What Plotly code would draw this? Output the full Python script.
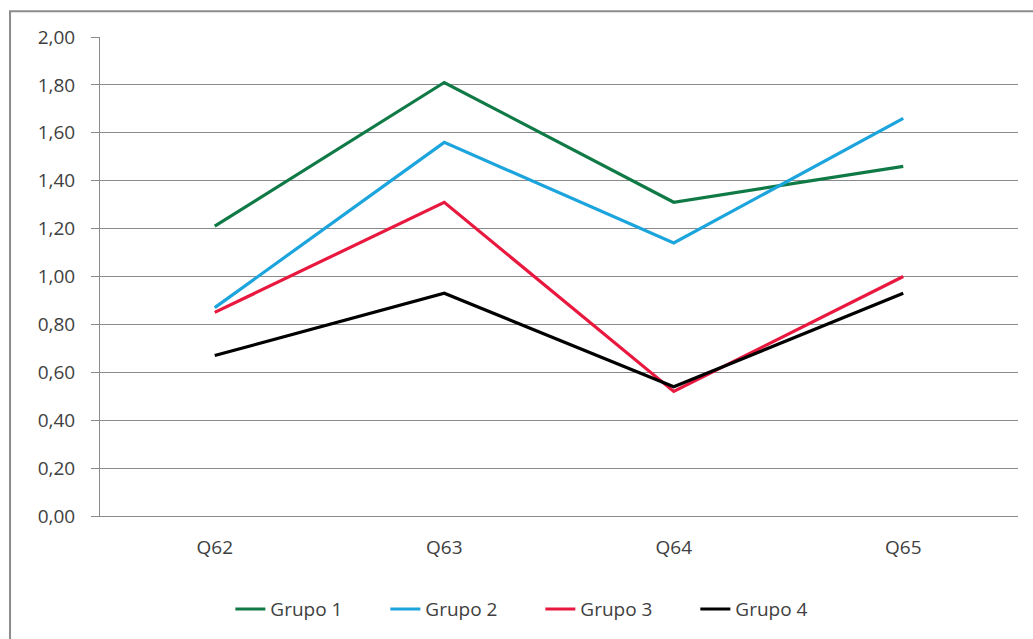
import plotly.graph_objects as go

# Categories and group means
categories = ["Q62", "Q63", "Q64", "Q65"]
grupo_1 = [1.21, 1.81, 1.31, 1.46]
grupo_2 = [0.87, 1.56, 1.14, 1.66]
grupo_3 = [0.85, 1.31, 0.52, 1.00]
grupo_4 = [0.67, 0.93, 0.54, 0.93]

series_names = ["Grupo 1", "Grupo 2", "Grupo 3", "Grupo 4"]
series_colors = ["#107A46", "#1CA4DD", "#E8183F", "#000000"]

y_tick_values = [0.0, 0.2, 0.4, 0.6, 0.8, 1.0, 1.2, 1.4, 1.6, 1.8, 2.0]
y_tick_labels = ["0,00", "0,20", "0,40", "0,60", "0,80", "1,00",
                 "1,20", "1,40", "1,60", "1,80", "2,00"]

FONT = "Open Sans"
TEXT = "#404040"
GRID = "#8a8a8a"

fig = go.Figure()
for name, values, color in zip(series_names,
                               [grupo_1, grupo_2, grupo_3, grupo_4],
                               series_colors):
    fig.add_trace(go.Scatter(
        x=categories, y=values, name=name, mode="lines",
        line=dict(color=color, width=3.2),
    ))

fig.update_layout(
    width=1033, height=639,
    margin=dict(l=100, r=15, t=37, b=122),
    paper_bgcolor="white", plot_bgcolor="white",
    font=dict(family=FONT, size=19, color=TEXT),
    showlegend=True,
    legend=dict(
        orientation="h", x=0.142, xanchor="left",
        y=-0.192, yanchor="middle",
        font=dict(family=FONT, size=19, color=TEXT),
        itemwidth=30, tracegroupgap=0,
        entrywidth=110, entrywidthmode="pixels",
    ),
    xaxis=dict(
        range=[-0.5, 3.5], showgrid=False, zeroline=False,
        showline=True, linecolor=GRID, linewidth=1,
        ticks="", tickfont=dict(size=19, color=TEXT),
        ticklabelstandoff=14,
    ),
    yaxis=dict(
        range=[0, 2.0], tickvals=y_tick_values, ticktext=y_tick_labels,
        showgrid=True, gridcolor=GRID, gridwidth=1, zeroline=False,
        showline=True, linecolor=GRID, linewidth=1,
        ticks="outside", ticklen=8, tickcolor=GRID,
        tickfont=dict(size=19, color=TEXT),
        ticklabelstandoff=12,
    ),
    shapes=[dict(
        type="rect", xref="paper", yref="paper",
        x0=-0.098, x1=1.2, y0=-0.4, y1=1.054,
        line=dict(color="#8c8c8c", width=2), fillcolor="rgba(0,0,0,0)",
        layer="below",
    )],
)

fig.write_html("out.html")
